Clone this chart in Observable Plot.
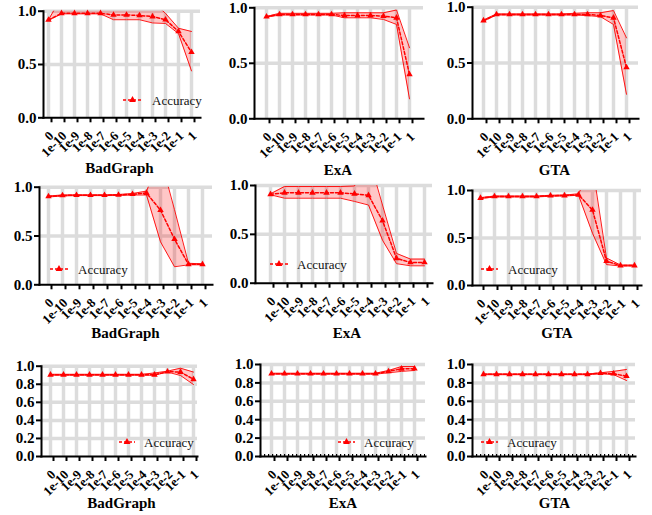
<!DOCTYPE html>
<html><head><meta charset="utf-8">
<script src="https://cdn.jsdelivr.net/npm/d3@7"></script>
<script src="https://cdn.jsdelivr.net/npm/@observablehq/plot@0.6"></script>
<style>
body{margin:0;background:#fff;}
#wrap{position:relative;width:652px;height:515px;overflow:hidden;background:#fff;}
#wrap svg{position:absolute;overflow:visible;}
</style></head><body><div id="wrap"></div>
<script>
const categories = ["0","1e-10","1e-9","1e-8","1e-7","1e-6","1e-5","1e-4","1e-3","1e-2","1e-1","1"];
const titles = ["BadGraph","ExA","GTA"];
const yTicksCoarse = [0, 0.5, 1];
const yTicksFine = [0, 0.2, 0.4, 0.6, 0.8, 1];
const legendLabel = "Accuracy";

// Row 1
const r1BadGraphMean  = [0.918,0.98,0.98,0.98,0.98,0.965,0.965,0.96,0.95,0.92,0.81,0.615];
const r1BadGraphUpper = [0.92,1.13,1.1,1.1,1.1,1.08,1.08,1.08,1.09,0.98,0.84,0.81];
const r1BadGraphLower = [0.915,0.975,0.975,0.975,0.975,0.92,0.92,0.92,0.89,0.885,0.79,0.44];
const r1ExAMean  = [0.92,0.94,0.94,0.94,0.94,0.94,0.93,0.93,0.93,0.925,0.91,0.40];
const r1ExAUpper = [0.922,0.95,0.95,0.95,0.95,0.95,0.955,0.955,0.955,0.955,0.98,0.64];
const r1ExALower = [0.915,0.935,0.935,0.935,0.935,0.935,0.91,0.91,0.91,0.895,0.85,0.18];
const r1GTAMean  = [0.88,0.935,0.935,0.935,0.935,0.935,0.935,0.935,0.935,0.925,0.905,0.46];
const r1GTAUpper = [0.885,0.94,0.94,0.94,0.94,0.94,0.94,0.945,0.95,0.95,0.97,0.725];
const r1GTALower = [0.875,0.93,0.93,0.93,0.93,0.93,0.93,0.93,0.925,0.915,0.845,0.22];
// Row 2
const r2BadGraphMean  = [0.905,0.915,0.918,0.918,0.918,0.92,0.928,0.94,0.765,0.468,0.21,0.21];
const r2BadGraphUpper = [0.91,0.92,0.922,0.922,0.922,0.925,0.935,0.96,1.3,0.77,0.22,0.215];
const r2BadGraphLower = [0.9,0.91,0.914,0.914,0.914,0.915,0.92,0.92,0.44,0.185,0.205,0.205];
const r2ExAMean  = [0.91,0.925,0.925,0.925,0.925,0.925,0.915,0.9,0.64,0.255,0.212,0.212];
const r2ExAUpper = [0.915,0.99,0.99,0.99,0.99,0.99,0.995,1.3,0.8,0.305,0.247,0.247];
const r2ExALower = [0.905,0.87,0.87,0.87,0.87,0.87,0.837,0.8,0.44,0.2,0.178,0.178];
const r2GTAMean  = [0.92,0.937,0.937,0.937,0.937,0.945,0.947,0.955,0.795,0.256,0.21,0.21];
const r2GTAUpper = [0.925,0.942,0.942,0.942,0.942,0.95,0.952,0.965,1.26,0.29,0.215,0.215];
const r2GTALower = [0.915,0.932,0.932,0.932,0.932,0.94,0.942,0.95,0.55,0.22,0.205,0.205];
// Row 3
const r3BadGraphMean  = [0.905,0.905,0.905,0.905,0.905,0.905,0.905,0.905,0.905,0.94,0.935,0.855];
const r3BadGraphUpper = [0.91,0.91,0.91,0.91,0.91,0.91,0.91,0.91,0.925,0.945,0.978,0.935];
const r3BadGraphLower = [0.9,0.9,0.9,0.9,0.9,0.9,0.9,0.9,0.9,0.935,0.897,0.797];
const r3ExAMean  = [0.9,0.9,0.9,0.9,0.9,0.9,0.9,0.9,0.9,0.925,0.953,0.955];
const r3ExAUpper = [0.905,0.905,0.905,0.905,0.905,0.905,0.905,0.905,0.905,0.935,0.978,0.978];
const r3ExALower = [0.895,0.895,0.895,0.895,0.895,0.895,0.895,0.895,0.895,0.91,0.925,0.935];
const r3GTAMean  = [0.893,0.893,0.893,0.893,0.893,0.893,0.893,0.893,0.893,0.905,0.9,0.873];
const r3GTAUpper = [0.897,0.897,0.897,0.897,0.897,0.897,0.897,0.897,0.897,0.91,0.925,0.946];
const r3GTALower = [0.889,0.889,0.889,0.889,0.889,0.889,0.889,0.889,0.889,0.9,0.89,0.826];

// Layout (absolute page pixels)
const cols = [{x:0,w:215},{x:215,w:215},{x:430,w:222}];
const rows = [{y:0,h:180},{y:180,h:165},{y:345,h:170}];

const panels = [
 {r:0,c:0,t:0,mean:r1BadGraphMean,upper:r1BadGraphUpper,lower:r1BadGraphLower,yt:yTicksCoarse,
  g:{axisX:43,right:200,cat0:45,cat11:193,top:10.7,bottom:117.3,ty:168},leg:{x1:123,x2:142,tx:152,y:100}},
 {r:0,c:1,t:1,mean:r1ExAMean,upper:r1ExAUpper,lower:r1ExALower,yt:yTicksCoarse,
  g:{axisX:254,right:423,cat0:261,cat11:414,top:7.3,bottom:118.3,ty:170}},
 {r:0,c:2,t:2,mean:r1GTAMean,upper:r1GTAUpper,lower:r1GTALower,yt:yTicksCoarse,
  g:{axisX:472,right:638,cat0:478,cat11:630,top:6.7,bottom:118.3,ty:170}},
 {r:1,c:0,t:0,mean:r2BadGraphMean,upper:r2BadGraphUpper,lower:r2BadGraphLower,yt:yTicksCoarse,
  g:{axisX:39,right:212,cat0:46,cat11:204,top:186.7,bottom:284.3,ty:333},leg:{x1:50,x2:68,tx:78,y:269}},
 {r:1,c:1,t:1,mean:r2ExAMean,upper:r2ExAUpper,lower:r2ExALower,yt:yTicksCoarse,
  g:{axisX:255,right:432,cat0:268,cat11:425,top:185,bottom:282.7,ty:333},leg:{x1:270,x2:288,tx:297,y:264}},
 {r:1,c:2,t:2,mean:r2GTAMean,upper:r2GTAUpper,lower:r2GTALower,yt:yTicksCoarse,
  g:{axisX:472,right:641,cat0:479,cat11:634,top:190,bottom:285,ty:333},leg:{x1:481,x2:498,tx:508,y:269}},
 {r:2,c:0,t:0,mean:r3BadGraphMean,upper:r3BadGraphUpper,lower:r3BadGraphLower,yt:yTicksFine,
  g:{axisX:41,right:197,cat0:48,cat11:194,top:365.7,bottom:456,ty:503},leg:{x1:119,x2:135,tx:144,y:442}},
 {r:2,c:1,t:1,mean:r3ExAMean,upper:r3ExAUpper,lower:r3ExALower,yt:yTicksFine,zero:true,
  g:{axisX:260,right:425,cat0:267,cat11:418,top:364,bottom:456,ty:503},leg:{x1:338,x2:355,tx:364,y:442}},
 {r:2,c:2,t:2,mean:r3GTAMean,upper:r3GTAUpper,lower:r3GTALower,yt:yTicksFine,zero:true,
  g:{axisX:472,right:635,cat0:479,cat11:629,top:364,bottom:456,ty:503},leg:{x1:481,x2:498,tx:507,y:442}}
];

const RED = "#ff0000";
const FONT = "Liberation Serif, Times New Roman, serif";

function legendMark(leg, ox, oy) {
  return () => {
    const g = d3.create("svg:g");
    const y = leg.y - oy;
    g.append("line").attr("x1", leg.x1 - ox).attr("x2", leg.x2 - ox).attr("y1", y).attr("y2", y)
      .attr("stroke", RED).attr("stroke-width", 1.6).attr("stroke-dasharray", "3,2");
    g.append("path").attr("d", d3.symbol(d3.symbolTriangle, 20)())
      .attr("transform", `translate(${(leg.x1 + leg.x2) / 2 - ox},${y})`).attr("fill", RED);
    g.append("text").attr("x", leg.tx - ox).attr("y", y).attr("dy", "0.35em")
      .attr("text-anchor", "start").attr("font-family", FONT).attr("font-weight", "normal").attr("font-size", 13)
      .attr("fill", "#111").text(legendLabel);
    return g.node();
  };
}

const wrap = document.getElementById("wrap");
for (const p of panels) {
  const col = cols[p.c], row = rows[p.r], g = p.g;
  const data = categories.map((cat, i) => ({cat, mean: p.mean[i], lo: p.lower[i], hi: p.upper[i]}));
  const frameCenter = (g.axisX + g.right) / 2;
  const catCenter = (g.cat0 + g.cat11) / 2;
  const marks = [
    Plot.gridX({stroke: "#dcdcdc", strokeOpacity: 1, strokeWidth: 3.5}),
    Plot.gridY(p.yt.filter(d => d > 0), {stroke: "#dcdcdc", strokeOpacity: 1, strokeWidth: 3.5}),
    Plot.areaY(data, {x: "cat", y1: "lo", y2: "hi", fill: RED, fillOpacity: 0.22, clip: true}),
    Plot.line(data, {x: "cat", y: "hi", stroke: RED, strokeWidth: 0.9, clip: true}),
    Plot.line(data, {x: "cat", y: "lo", stroke: RED, strokeWidth: 0.9, clip: true}),
    Plot.line(data, {x: "cat", y: "mean", stroke: RED, strokeWidth: 1.5, strokeDasharray: "3,2", clip: true}),
    Plot.dot(data, {x: "cat", y: "mean", symbol: "triangle", r: 2.4, fill: RED, stroke: "none"}),
    Plot.frame({anchor: "left", stroke: "black", strokeWidth: 2, strokeLinecap: "square"}),
    Plot.frame({anchor: "bottom", stroke: "black", strokeWidth: 2, strokeLinecap: "square"}),
  ];
  if (p.zero) marks.push(Plot.ruleY([0], {stroke: "black", strokeWidth: 2, strokeDasharray: "1.2,2.8", dy: -1.5}));
  marks.push(
    Plot.axisY({ticks: p.yt, tickFormat: d3.format(".1f"), tickSize: 5, tickPadding: 2, fontSize: 15, fontWeight: "bold", fontFamily: FONT, strokeWidth: 2, label: null}),
    Plot.axisX({tickRotate: -45, tickSize: 5, tickPadding: 11, dx: 3, fontSize: 13, fontWeight: "bold", fontFamily: FONT, strokeWidth: 2, label: null}),
    Plot.text([titles[p.t]], {frameAnchor: "bottom", lineAnchor: "middle", dy: g.ty - g.bottom, dx: catCenter - frameCenter, fontSize: 15, fontWeight: "bold", fontFamily: FONT, fill: "black"})
  );
  if (p.leg) marks.push(legendMark(p.leg, col.x, row.y));
  const svg = Plot.plot({
    width: col.w,
    height: row.h,
    marginLeft: g.axisX - col.x,
    marginRight: col.x + col.w - g.right,
    marginTop: g.top - row.y,
    marginBottom: row.y + row.h - g.bottom,
    style: {fontFamily: FONT, color: "black", background: "transparent", overflow: "visible"},
    x: {type: "point", domain: categories, padding: 0, insetLeft: g.cat0 - g.axisX, insetRight: g.right - g.cat11, label: null},
    y: {domain: [0, 1], label: null},
    marks
  });
  svg.style.left = col.x + "px";
  svg.style.top = row.y + "px";
  wrap.appendChild(svg);
}
</script></body></html>
